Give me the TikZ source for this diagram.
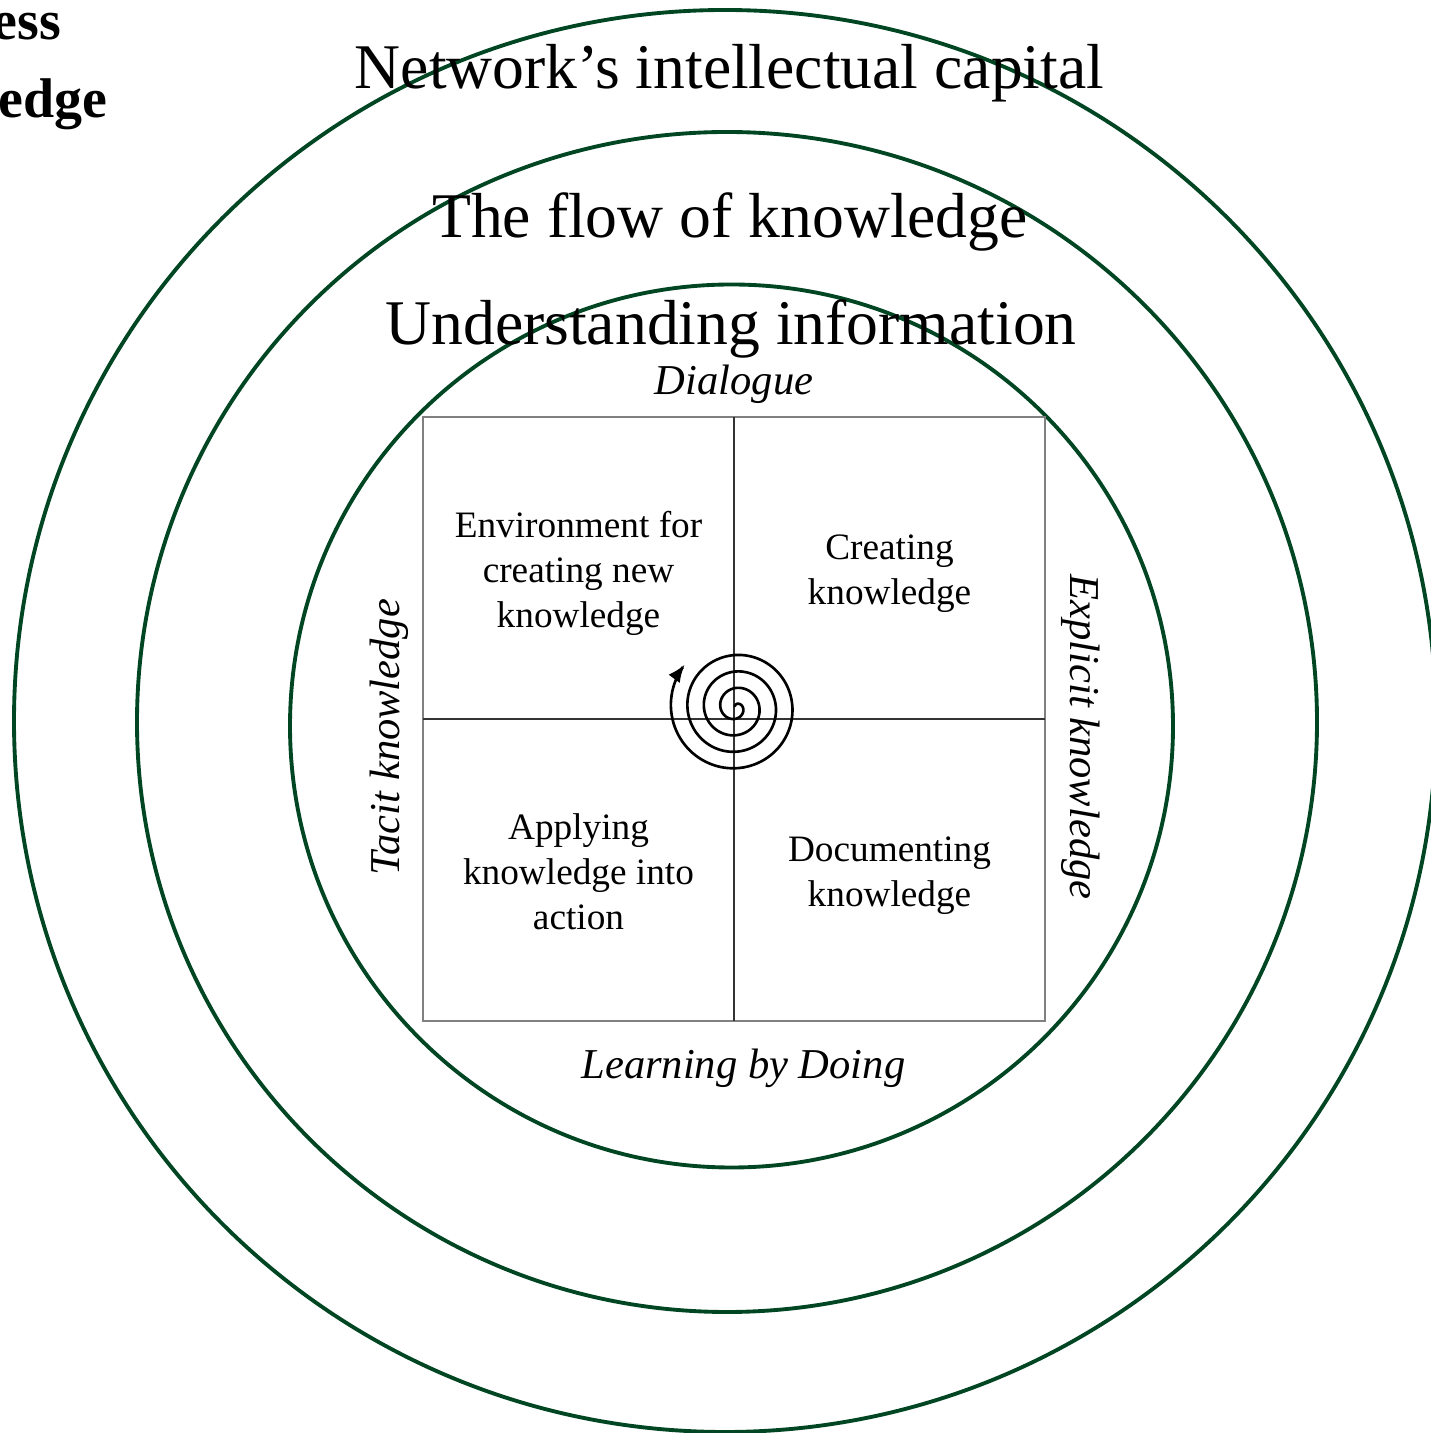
\documentclass[tikz,border=0pt]{standalone}
\usepackage{fontspec}
\setmainfont{Liberation Serif}
\usetikzlibrary{arrows.meta}
\definecolor{ringgreen}{RGB}{0,70,35}

\begin{document}
\begin{tikzpicture}[x=0.01cm, y=0.01cm,
    ring/.style = {draw=ringgreen, line width=1.1pt},
    ringlabel/.style = {anchor=base, font=\fontsize{18.1}{21}\selectfont},
    sidelabel/.style = {inner sep=0pt, font=\fontsize{12.1}{14}\selectfont\itshape},
    quadtext/.style = {align=center, inner sep=0pt, font=\fontsize{10.6}{12.8}\selectfont},
    cutlabel/.style = {anchor=base east, inner sep=0pt, font=\fontsize{15.9}{18}\selectfont\bfseries}]
    \useasboundingbox (0,0) rectangle (1431,1433);
    \foreach \cx/\cy/\r in {725/712/711, 727/711/590, 731.5/707/441.5}
      \draw [ring] (\cx,\cy) circle (\r);
    \coordinate (sw) at (423,412);
    \coordinate (ne) at (1045,1016);
    \coordinate (mid) at (734,714);
    \draw [black!50, line width=0.4pt] (sw) rectangle (ne);
    \draw [black!80, line width=0.4pt] (sw |- mid) -- (ne |- mid) (sw -| mid) -- (ne -| mid);
    \draw [line width=0.75pt, -{Latex[length=5pt,width=4pt]}]
      plot [domain=0:1440, samples=400, smooth]
      ({735.8+(52.5+(\x-1130)/360*16.5)*cos(1580-\x)}, {725.5+(52.5+(\x-1130)/360*16.5)*sin(1580-\x)});
    \node [ringlabel] (capital) at (729.5,1344) {Network’s intellectual capital};
    \node [ringlabel] (flow) at (730,1195) {The flow of knowledge};
    \node [ringlabel] (understanding) at (731,1088) {Understanding information};
    \node [sidelabel, anchor=base] (dialogue) at (734,1038) {Dialogue};
    \node [sidelabel, anchor=base] (doing) at (743.4,354) {Learning by Doing};
    \node [sidelabel, rotate=90] (tacit) at (389,696) {Tacit knowledge};
    \node [sidelabel, rotate=-90] (explicit) at (1081,696) {Explicit knowledge};
    \node [quadtext] (environment) at (578.5,860) {Environment for\\creating new\\knowledge};
    \node [quadtext] (creating) at (889.5,859) {Creating\\knowledge};
    \node [quadtext] (applying) at (578.5,561.7) {Applying\\knowledge into\\action};
    \node [quadtext] (documenting) at (889.5,557.7) {Documenting\\knowledge};
    \node [cutlabel] (business) at (62,1393) {ess};
    \node [cutlabel] (knowledge) at (108,1315) {edge};
\end{tikzpicture}
\end{document}
